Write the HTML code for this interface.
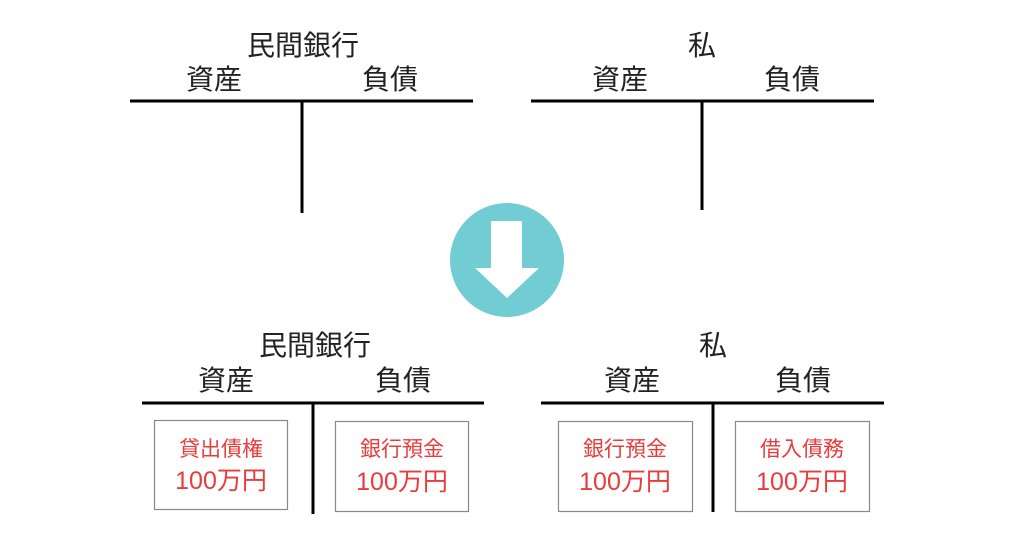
<!DOCTYPE html>
<html><head><meta charset="utf-8"><style>
html,body{margin:0;padding:0;background:#fff;}
svg text{font-family:"Liberation Sans","Noto Sans CJK JP",sans-serif;}
</style></head><body>
<svg width="1024" height="536" viewBox="0 0 1024 536" xmlns="http://www.w3.org/2000/svg">
<g fill="#222" font-size="28" text-anchor="middle">
<text x="303" y="55">民間銀行</text>
<text x="214" y="89">資産</text>
<text x="390" y="89">負債</text>
<text x="702" y="55">私</text>
<text x="620" y="89">資産</text>
<text x="792" y="89">負債</text>
<text x="315" y="355">民間銀行</text>
<text x="226" y="390">資産</text>
<text x="403" y="390">負債</text>
<text x="713" y="355">私</text>
<text x="632" y="390">資産</text>
<text x="803" y="390">負債</text>
</g>
<g stroke="#000" stroke-width="3" fill="none">
<line x1="130" y1="101" x2="473" y2="101"/>
<line x1="302" y1="101" x2="302" y2="213"/>
<line x1="531" y1="101" x2="874" y2="101"/>
<line x1="702" y1="101" x2="702" y2="210"/>
<line x1="142" y1="403" x2="484" y2="403"/>
<line x1="313" y1="403" x2="313" y2="514"/>
<line x1="541" y1="403" x2="884" y2="403"/>
<line x1="713" y1="403" x2="713" y2="512"/>
</g>
<g stroke="#888" stroke-width="1.2" fill="#fff">
<rect x="154.5" y="420.5" width="133" height="89"/>
<rect x="335.5" y="421.5" width="133" height="90"/>
<rect x="558.5" y="421.5" width="134" height="90"/>
<rect x="735.5" y="421.5" width="134" height="90"/>
</g>
<g fill="#e83c3c" text-anchor="middle">
<g font-size="21">
<text x="221" y="456">貸出債権</text>
<text x="402" y="456">銀行預金</text>
<text x="625" y="456">銀行預金</text>
<text x="802" y="456">借入債務</text>
</g>
<g font-size="25">
<text x="221" y="489">100万円</text>
<text x="402" y="490">100万円</text>
<text x="625" y="490">100万円</text>
<text x="802" y="490">100万円</text>
</g>
</g>
<circle cx="507" cy="260" r="57" fill="#72ccd4"/>
<polygon points="491,221 522,221 522,268 539,268 507,298 475,268 491,268" fill="#fff"/>
</svg>
</body></html>
